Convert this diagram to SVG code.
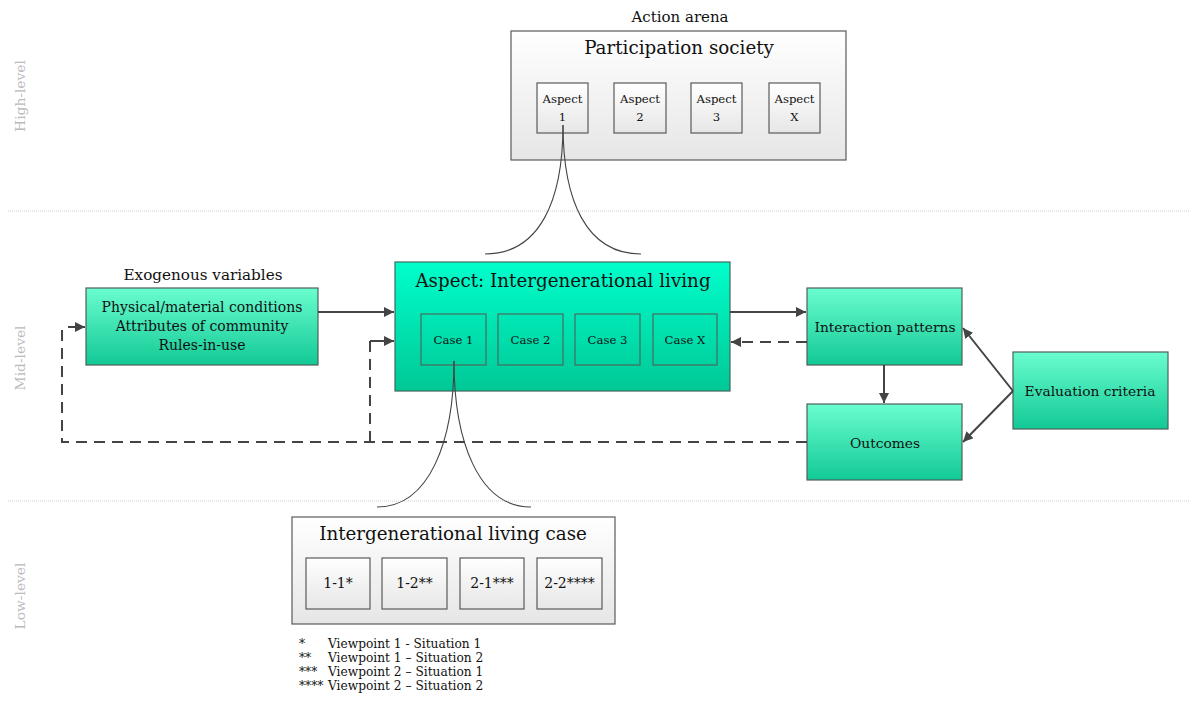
<svg xmlns="http://www.w3.org/2000/svg" width="1189" height="706" viewBox="0 0 1189 706">
  <defs>
    <linearGradient id="gGreen" x1="0" y1="0" x2="0" y2="1">
      <stop offset="0" stop-color="#6afdcf"/>
      <stop offset="1" stop-color="#12c995"/>
    </linearGradient>
    <linearGradient id="gTeal" x1="0" y1="0" x2="0" y2="1">
      <stop offset="0" stop-color="#00ffcc"/>
      <stop offset="1" stop-color="#00c896"/>
    </linearGradient>
    <linearGradient id="gGray" x1="0" y1="0" x2="0" y2="1">
      <stop offset="0" stop-color="#ffffff"/>
      <stop offset="1" stop-color="#e6e6e6"/>
    </linearGradient>
    <marker id="arr" viewBox="0 0 10 10" refX="10" refY="5" markerWidth="10" markerHeight="10" markerUnits="userSpaceOnUse" orient="auto">
      <path d="M0,0 L10,5 L0,10 z" fill="#444"/>
    </marker>
  </defs>
  <style>
    text { font-family: "DejaVu Serif", "Liberation Serif", serif; fill: #111; }
    .green { fill: url(#gGreen); stroke: #4f5f5a; stroke-width: 1.2; }
    .teal { fill: url(#gTeal); stroke: #3e6a5d; stroke-width: 1.2; }
    .gray { fill: url(#gGray); stroke: #5a5a5a; stroke-width: 1.2; }
    .sub { fill: none; stroke: #4a6a60; stroke-width: 1.2; }
    .subg { fill: url(#gGray); stroke: #5a5a5a; stroke-width: 1.2; }
    .line { fill: none; stroke: #444; stroke-width: 2; }
    .dash { fill: none; stroke: #444; stroke-width: 2; stroke-dasharray: 11 7; }
    .arc { fill: none; stroke: #444; stroke-width: 1.1; }
    .sep { fill: none; stroke: #cfcfcf; stroke-width: 1; stroke-dasharray: 1 1; }
    .level { fill: #bbbbbb; font-size: 13.8px; }
    .c { text-anchor: middle; }
    .body { font-size: 13.8px; }
    .title { font-size: 18.3px; }
  </style>

  <!-- level separators and labels -->
  <g id="levels">
    <line class="sep" x1="8" y1="211" x2="1189" y2="211"/>
    <line class="sep" x1="8" y1="501" x2="1189" y2="501"/>
    <text class="level c" transform="translate(25,96) rotate(-90)">High-level</text>
    <text class="level c" transform="translate(25,358) rotate(-90)">Mid-level</text>
    <text class="level c" transform="translate(25,596) rotate(-90)">Low-level</text>
  </g>

  <!-- high-level: action arena -->
  <g id="action-arena">
    <text class="c" x="680" y="22" font-size="15">Action arena</text>
    <rect class="gray" x="511" y="31" width="335" height="129"/>
    <text class="c title" x="679" y="54">Participation society</text>
    <rect class="subg" x="537" y="83" width="51" height="50"/>
    <rect class="subg" x="614" y="83" width="52" height="50"/>
    <rect class="subg" x="691" y="83" width="51" height="50"/>
    <rect class="subg" x="769" y="83" width="51" height="50"/>
    <g font-size="11.7">
      <text class="c" x="562.5" y="103">Aspect</text><text class="c" x="562.5" y="121">1</text>
      <text class="c" x="640" y="103">Aspect</text><text class="c" x="640" y="121">2</text>
      <text class="c" x="716.5" y="103">Aspect</text><text class="c" x="716.5" y="121">3</text>
      <text class="c" x="794.5" y="103">Aspect</text><text class="c" x="794.5" y="121">X</text>
    </g>
  </g>

  <!-- mid-level -->
  <g id="exogenous">
    <text class="c" x="203" y="280" font-size="15.2">Exogenous variables</text>
    <rect class="green" x="86" y="288" width="232" height="77"/>
    <g font-size="14">
      <text class="c" x="202" y="312">Physical/material conditions</text>
      <text class="c" x="202" y="331">Attributes of community</text>
      <text class="c" x="202" y="350">Rules-in-use</text>
    </g>
  </g>

  <g id="aspect-intergenerational">
    <rect class="teal" x="395" y="262" width="335" height="129"/>
    <text class="c title" x="563" y="287">Aspect: Intergenerational living</text>
    <rect class="sub" x="421" y="314" width="65" height="51"/>
    <rect class="sub" x="498" y="314" width="65" height="51"/>
    <rect class="sub" x="575" y="314" width="65" height="51"/>
    <rect class="sub" x="653" y="314" width="64" height="51"/>
    <g font-size="11.7">
      <text class="c" x="453.5" y="344">Case 1</text>
      <text class="c" x="530.5" y="344">Case 2</text>
      <text class="c" x="607.5" y="344">Case 3</text>
      <text class="c" x="685" y="344">Case X</text>
    </g>
  </g>

  <g id="interaction-patterns">
    <rect class="green" x="807" y="288" width="155" height="77"/>
    <text class="c body" x="885" y="332">Interaction patterns</text>
  </g>

  <g id="outcomes">
    <rect class="green" x="807" y="404" width="155" height="76"/>
    <text class="c body" x="885" y="448">Outcomes</text>
  </g>

  <g id="evaluation-criteria">
    <rect class="green" x="1013" y="352" width="155" height="77"/>
    <text class="c body" x="1090" y="396">Evaluation criteria</text>
  </g>

  <!-- low-level -->
  <g id="living-case">
    <rect class="gray" x="292" y="517" width="323" height="107"/>
    <text class="c title" x="453" y="540">Intergenerational living case</text>
    <rect class="subg" x="306" y="558" width="64" height="51"/>
    <rect class="subg" x="382" y="558" width="65" height="51"/>
    <rect class="subg" x="460" y="558" width="64" height="51"/>
    <rect class="subg" x="537" y="558" width="65" height="51"/>
    <g font-size="14">
      <text class="c" x="338" y="588">1-1*</text>
      <text class="c" x="414.5" y="588">1-2**</text>
      <text class="c" x="492" y="588">2-1***</text>
      <text class="c" x="569.5" y="588">2-2****</text>
    </g>
  </g>

  <g id="legend" font-size="12.2">
    <text x="299" y="648">*</text><text x="328" y="648">Viewpoint 1 -  Situation 1</text>
    <text x="299" y="662">**</text><text x="328" y="662">Viewpoint 1 – Situation 2</text>
    <text x="299" y="676">***</text><text x="328" y="676">Viewpoint 2 – Situation 1</text>
    <text x="299" y="690">****</text><text x="328" y="690">Viewpoint 2 – Situation 2</text>
  </g>

  <!-- connectors -->
  <g id="connectors">
    <!-- zoom-in curves -->
    <path class="arc" d="M563,125 C563,200 540,254 485,254"/>
    <path class="arc" d="M563,125 C563,200 586,254 641,254"/>
    <path class="arc" d="M454,361 C454,440 430,507 377,507"/>
    <path class="arc" d="M454,361 C454,440 478,507 531,507"/>

    <!-- solid flows -->
    <line class="line" x1="318" y1="312" x2="394" y2="312" marker-end="url(#arr)"/>
    <line class="line" x1="730" y1="312" x2="806" y2="312" marker-end="url(#arr)"/>
    <line class="line" x1="884" y1="365" x2="884" y2="403" marker-end="url(#arr)"/>
    <line class="line" x1="1013" y1="391" x2="963" y2="328" marker-end="url(#arr)"/>
    <line class="line" x1="1013" y1="391" x2="963" y2="442" marker-end="url(#arr)"/>

    <!-- feedback (dashed) -->
    <line class="dash" x1="807" y1="342" x2="731" y2="342" marker-end="url(#arr)"/>
    <polyline class="dash" points="807,442 62,442 62,327"/>
    <line class="line" x1="68" y1="327" x2="85" y2="327" marker-end="url(#arr)"/>
    <polyline class="dash" points="370,442 370,341"/>
    <line class="line" x1="370" y1="341" x2="394" y2="341" marker-end="url(#arr)"/>
  </g>
</svg>
